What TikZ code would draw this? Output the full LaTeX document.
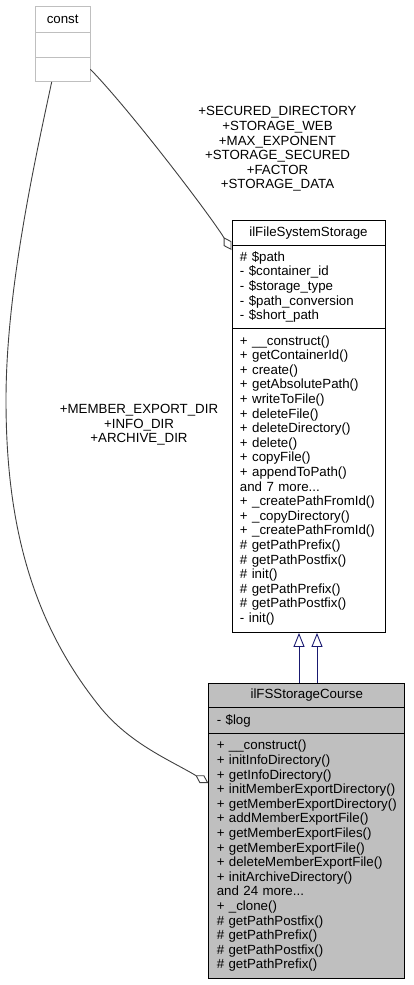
\documentclass[tikz,border=0pt]{standalone}
\usepackage{fontspec}
\setmainfont{Liberation Sans}
\usetikzlibrary{positioning, arrows.meta, calc}
\definecolor{edgeGray}{HTML}{404040}
\definecolor{classGray}{HTML}{BFBFBF}
\definecolor{frameGray}{HTML}{BFBFBF}
\definecolor{inheritBlue}{HTML}{191970}

\begin{document}
\begin{tikzpicture}[x=1pt, y=-1pt,
    font=\fontsize{13.3}{14.6}\selectfont,
    part/.style={
      draw, rectangle, anchor=north west,
      inner xsep=0pt, inner ysep=0pt, line width=0.9pt
    },
    title/.style={part, align=center, minimum width=#1},
    members/.style={
      part, align=left, inner xsep=8pt, text width=#1,
      execute at begin node={\hyphenpenalty=10000\exhyphenpenalty=10000}
    },
    aggr/.style={
      draw=edgeGray, line width=0.9pt,
      -{Diamond[open, length=15pt, width=9pt]}
    },
    inherit/.style={
      draw=inheritBlue, line width=0.9pt,
      -{Triangle[open, length=14pt, width=11pt]}
    }
  ]
  \useasboundingbox (0,0) rectangle (413,985);

  % const
  \node[title=54.5, draw=frameGray, minimum height=26] (constTitle) at (35,5.7) {const};
  \node[title=54.5, draw=frameGray, minimum height=25] (constAttr) at (35,31.7) {};
  \node[title=54.5, draw=frameGray, minimum height=24.3] (constOps) at (35,56.7) {};

  % ilFileSystemStorage
  \node[title=153, minimum height=25] (fssTitle) at (231.5,220) {ilFileSystemStorage};
  \node[members=137, minimum height=83] (fssAttr) at (231.5,245)
    {\# \$path\\- \$container\_id\\- \$storage\_type\\- \$path\_conversion\\- \$short\_path};
  \node[members=137, minimum height=304] (fssOps) at (231.5,328)
    {+ \_\_construct()\\+ getContainerId()\\+ create()\\+ getAbsolutePath()\\
     + writeToFile()\\+ deleteFile()\\+ deleteDirectory()\\+ delete()\\
     + copyFile()\\+ appendToPath()\\and 7 more...\\+ \_createPathFromId()\\
     + \_copyDirectory()\\+ \_createPathFromId()\\\# getPathPrefix()\\
     \# getPathPostfix()\\\# init()\\\# getPathPrefix()\\\# getPathPostfix()\\- init()};

  % ilFSStorageCourse
  \node[title=196, fill=classGray, minimum height=24] (courseTitle) at (208.3,683) {ilFSStorageCourse};
  \node[members=180, fill=classGray, minimum height=26] (courseAttr) at (208.3,707) {- \$log};
  \node[members=180, fill=classGray, minimum height=245] (courseOps) at (208.3,733)
    {+ \_\_construct()\\+ initInfoDirectory()\\+ getInfoDirectory()\\
     + initMemberExportDirectory()\\+ getMemberExportDirectory()\\
     + addMemberExportFile()\\+ getMemberExportFiles()\\+ getMemberExportFile()\\
     + deleteMemberExportFile()\\+ initArchiveDirectory()\\and 24 more...\\
     + \_clone()\\\# getPathPostfix()\\\# getPathPrefix()\\\# getPathPostfix()\\
     \# getPathPrefix()};

  % edge labels
  \node[align=center] (fssLabel) at (277.5,149)
    {+SECURED\_DIRECTORY\\+STORAGE\_WEB\\+MAX\_EXPONENT\\+STORAGE\_SECURED\\+FACTOR\\+STORAGE\_DATA};
  \node[align=center] (courseLabel) at (139,425)
    {+MEMBER\_EXPORT\_DIR\\+INFO\_DIR\\+ARCHIVE\_DIR};

  % usage edges
  \draw[aggr] (constOps.east) .. controls (130,110) and (210,215) .. ($(fssAttr.north west)+(0,5)$);
  \draw[aggr] ($(constOps.south)+(-11,0)$) .. controls (35,160) and (6,290) .. (6,400)
    .. controls (6,520) and (30,620) .. (100,707)
    .. controls (130,744) and (170,760) .. ($(courseOps.north west)+(0,50)$);

  % inheritance
  \coordinate (inhA) at (299,0);
  \coordinate (inhB) at (317,0);
  \draw[inherit] (courseTitle.north -| inhA) -- (fssOps.south -| inhA);
  \draw[inherit] (courseTitle.north -| inhB) -- (fssOps.south -| inhB);
\end{tikzpicture}
\end{document}
